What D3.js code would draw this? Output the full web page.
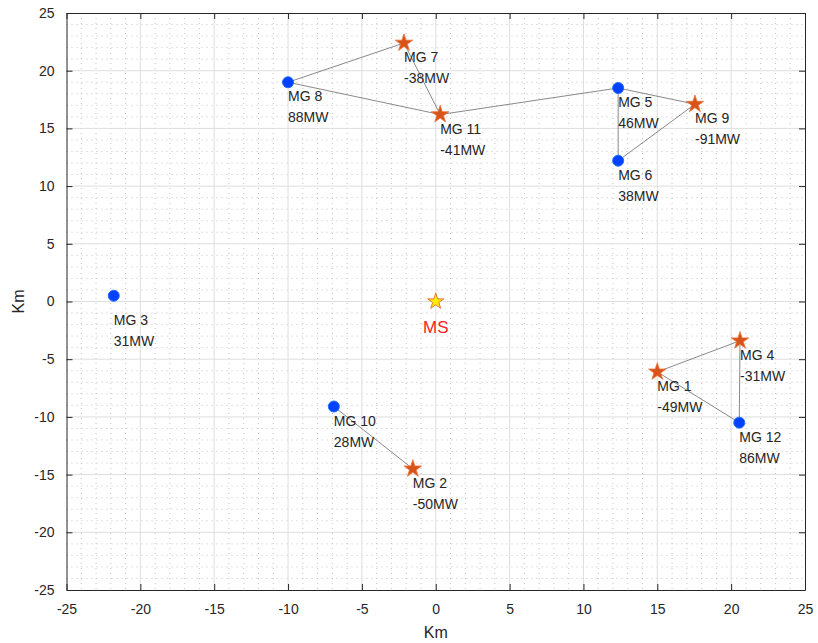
<!DOCTYPE html>
<html>
<head>
<meta charset="utf-8">
<script src="https://cdn.jsdelivr.net/npm/d3@7"></script>
<style>
  body { margin: 0; background: #fff; }
  svg text { font-family: "Liberation Sans", Arial, Helvetica, sans-serif; }
</style>
</head>
<body>
<svg id="chart" width="818" height="643"></svg>
<script>
// node data
const nodeNames = ["MG 1", "MG 2", "MG 3", "MG 4", "MG 5", "MG 6", "MG 7", "MG 8", "MG 9", "MG 10", "MG 11", "MG 12"];
const nodeX = [15.0, -1.55, -21.8, 20.6, 12.35, 12.35, -2.15, -10.0, 17.55, -6.9, 0.3, 20.55];
const nodeY = [-6.1, -14.5, 0.5, -3.4, 18.5, 12.2, 22.4, 19.0, 17.1, -9.1, 16.2, -10.5];
const nodePower = [-49, -50, 31, -31, 46, 38, -38, 88, -91, 28, -41, 86];
const links = [
  ["MG 8", "MG 7"], ["MG 7", "MG 11"], ["MG 8", "MG 11"], ["MG 11", "MG 5"],
  ["MG 5", "MG 9"], ["MG 5", "MG 6"], ["MG 6", "MG 9"],
  ["MG 1", "MG 4"], ["MG 4", "MG 12"], ["MG 1", "MG 12"],
  ["MG 10", "MG 2"]
];
const station = {name: "MS", x: 0, y: 0};
const tickValues = [-25, -20, -15, -10, -5, 0, 5, 10, 15, 20, 25];
const minorValues = d3.range(-25, 26, 1);

const LEFT = 66.5, RIGHT = 805, TOP = 13, BOTTOM = 590;
const AXIS_COLOR = "#262626";

const svg = d3.select("#chart");

const x = d3.scaleLinear().domain([-25, 25]).range([LEFT, RIGHT]);
const y = d3.scaleLinear().domain([-25, 25]).range([BOTTOM, TOP]);

// minor grid
const minorGrid = svg.append("g").attr("class", "minor-grid");
minorGrid.selectAll("line.mx")
  .data(minorValues.filter(v => v % 5 !== 0))
  .enter().append("line")
  .attr("x1", d => x(d)).attr("x2", d => x(d))
  .attr("y1", TOP).attr("y2", BOTTOM);
minorGrid.selectAll("line.my")
  .data(minorValues.filter(v => v % 5 !== 0))
  .enter().append("line")
  .attr("y1", d => y(d)).attr("y2", d => y(d))
  .attr("x1", LEFT).attr("x2", RIGHT);
minorGrid.selectAll("line")
  .attr("stroke", "#c4c4c4")
  .attr("stroke-width", 1)
  .attr("stroke-dasharray", "1,4");

// major grid
const majorGrid = svg.append("g").attr("class", "major-grid");
majorGrid.selectAll("line.gx")
  .data(tickValues.slice(1, -1))
  .enter().append("line")
  .attr("x1", d => x(d)).attr("x2", d => x(d))
  .attr("y1", TOP).attr("y2", BOTTOM);
majorGrid.selectAll("line.gy")
  .data(tickValues.slice(1, -1))
  .enter().append("line")
  .attr("y1", d => y(d)).attr("y2", d => y(d))
  .attr("x1", LEFT).attr("x2", RIGHT);
majorGrid.selectAll("line")
  .attr("stroke", "#dedede")
  .attr("stroke-width", 1);

// axes (ticks inside, box on)
const plainNumber = d => String(d);
const addAxis = (axis, transform) => {
  const g = svg.append("g").attr("transform", transform).call(axis);
  g.select(".domain").attr("stroke", AXIS_COLOR);
  g.selectAll(".tick line").attr("stroke", AXIS_COLOR);
  g.selectAll(".tick text")
    .attr("fill", AXIS_COLOR)
    .style("font-size", "14px");
  return g;
};

addAxis(d3.axisBottom(x).tickValues(tickValues).tickFormat(plainNumber)
  .tickSize(-6).tickSizeOuter(0).tickPadding(14),
  `translate(0,${BOTTOM})`);
addAxis(d3.axisLeft(y).tickValues(tickValues).tickFormat(plainNumber)
  .tickSize(-6).tickSizeOuter(0).tickPadding(12),
  `translate(${LEFT},0)`);
addAxis(d3.axisTop(x).tickValues(tickValues).tickSize(-6).tickSizeOuter(0).tickFormat(""),
  `translate(0,${TOP})`);
addAxis(d3.axisRight(y).tickValues(tickValues).tickSize(-6).tickSizeOuter(0).tickFormat(""),
  `translate(${RIGHT},0)`);

// axis labels
svg.append("text")
  .attr("x", (LEFT + RIGHT) / 2)
  .attr("y", 638)
  .attr("text-anchor", "middle")
  .attr("fill", AXIS_COLOR)
  .style("font-size", "16px")
  .text("Km");
svg.append("text")
  .attr("transform", `translate(24,${(TOP + BOTTOM) / 2}) rotate(-90)`)
  .attr("text-anchor", "middle")
  .attr("fill", AXIS_COLOR)
  .style("font-size", "16px")
  .text("Km");

// nodes
const nodes = nodeNames.map((name, i) => ({
  name, x: nodeX[i], y: nodeY[i], power: nodePower[i]
}));
const byName = new Map(nodes.map(n => [n.name, n]));
const linked = new Set(links.flat());

svg.append("g").selectAll("line")
  .data(links)
  .enter().append("line")
  .attr("x1", d => x(byName.get(d[0]).x))
  .attr("y1", d => y(byName.get(d[0]).y))
  .attr("x2", d => x(byName.get(d[1]).x))
  .attr("y2", d => y(byName.get(d[1]).y))
  .attr("stroke", "#6b6b6b")
  .attr("stroke-width", 0.8);

const star = d3.symbol().type(d3.symbolStar);

const marks = svg.append("g").selectAll("g")
  .data(nodes)
  .enter().append("g")
  .attr("transform", d => `translate(${x(d.x)},${y(d.y)})`);

marks.filter(d => d.power >= 0).append("circle")
  .attr("r", 5.5)
  .attr("fill", "#0040ff")
  .attr("stroke", "#1a6fff")
  .attr("stroke-width", 1);

marks.filter(d => d.power < 0).append("path")
  .attr("d", star.size(95)())
  .attr("fill", "#d95319")
  .attr("stroke", "#e8743b")
  .attr("stroke-width", 0.8);

// labels
const labels = svg.append("g").selectAll("g")
  .data(nodes)
  .enter().append("g")
  .attr("transform", d => `translate(${x(d.x)},${y(d.y) + (linked.has(d.name) ? 0 : 10)})`)
  .attr("fill", AXIS_COLOR)
  .style("font-size", "14px");
labels.append("text").attr("y", 19).text(d => d.name);
labels.append("text").attr("y", 40).text(d => `${d.power}MW`);

// main station
svg.append("path")
  .attr("transform", `translate(${x(station.x)},${y(station.y)})`)
  .attr("d", star.size(80)())
  .attr("fill", "#ffee00")
  .attr("stroke", "#e8743b")
  .attr("stroke-width", 1);
svg.append("text")
  .attr("x", x(station.x))
  .attr("y", y(station.y) + 31)
  .attr("text-anchor", "middle")
  .attr("fill", "#ff2020")
  .style("font-size", "17px")
  .text(station.name);
</script>
</body>
</html>
